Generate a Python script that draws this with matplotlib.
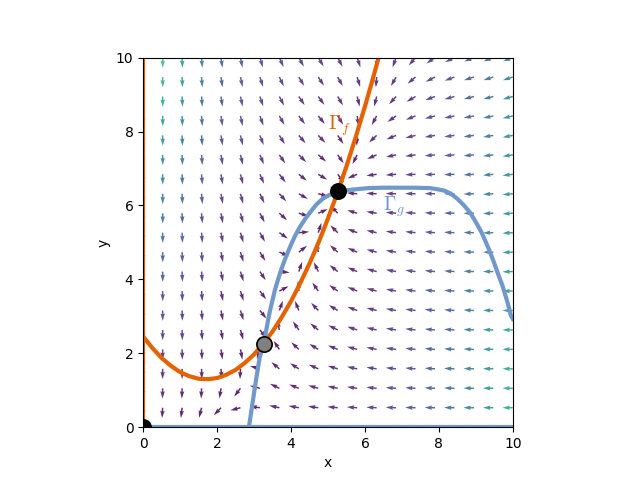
import numpy as np
import matplotlib
matplotlib.use("Agg")
import matplotlib.pyplot as plt

plt.rcParams['mathtext.fontset'] = 'cm'

# ---- nullcline curves ----
gf_x = [0.0, 0.25, 0.5, 0.75, 1.0, 1.25, 1.5, 1.75, 2.0, 2.25, 2.5, 2.75, 3.0,
        3.25, 3.5, 3.75, 4.0, 4.25, 4.5, 4.75, 5.0, 5.25, 5.5, 5.75, 6.0, 6.2, 6.4]
gf_y = [2.45, 2.14, 1.87, 1.66, 1.49, 1.38, 1.31, 1.30, 1.33, 1.42, 1.55, 1.74, 1.97,
        2.26, 2.59, 2.98, 3.41, 3.90, 4.43, 5.01, 5.65, 6.33, 7.06, 7.85, 8.68, 9.38, 10.11]

gg_x = [2.86, 3.02, 3.15, 3.26, 3.41, 3.56, 3.65, 3.74, 3.85, 3.97, 4.1, 4.24, 4.4,
        4.56, 4.7, 4.87, 5.05, 5.28, 5.5, 5.78, 6.1, 6.5, 7.3, 7.75, 7.95, 8.15,
        8.32, 8.5, 8.68, 8.85, 9.0, 9.15, 9.27, 9.38, 9.49, 9.6, 9.72, 9.85, 9.95, 10.0]
gg_y = [0.0, 1.07, 1.88, 2.25, 3.06, 3.70, 4.00, 4.28, 4.58, 4.87, 5.16, 5.42, 5.66,
        5.87, 6.04, 6.19, 6.29, 6.36, 6.41, 6.44, 6.47, 6.48, 6.48, 6.47, 6.44, 6.40,
        6.32, 6.18, 6.0, 5.80, 5.55, 5.28, 5.01, 4.75, 4.46, 4.15, 3.83, 3.40, 3.02, 2.93]

# equilibria
eq_x = [0.0, 3.26, 5.28]
eq_y = [0.0, 2.25, 6.38]
eq_face = ['black', 'grey', 'black']

# model pieces for the direction field
f_coef = [0.399, -1.356, 2.45]          # Gamma_f : y = F(x)
g_left_x = [0.0, 0.53, 1.05, 1.58, 2.1]  # Gamma_g continuation below y=0
g_left_y = [-38.0, -22.0, -16.0, -9.0, -3.0]

n_grid = 20

ORANGE = '#E66100'
BLUE = '#7098CB'

fig, ax = plt.subplots(figsize=(6.4, 4.8), dpi=100)

xs = np.linspace(0, 10, n_grid)
ys = np.linspace(0, 10, n_grid)
X, Y = np.meshgrid(xs, ys)
Gx = np.array(g_left_x + gg_x)
Gy = np.array(g_left_y + gg_y)
FX = np.polyval(f_coef, X)
GX = np.interp(X, Gx, Gy)
U = X * (Y - FX)
V = Y * (GX - Y)
M = np.hypot(U, V)
Mn = np.where(M == 0, 1, M)
ax.quiver(X, Y, U / Mn, V / Mn, M, cmap='viridis', alpha=0.85,
          angles='xy', scale_units='xy', scale=1 / 0.28, width=0.004,
          zorder=1)

ax.plot([0, 0], [0, 10], color=ORANGE, lw=3, zorder=2)
ax.plot(gf_x, gf_y, color=ORANGE, lw=3, zorder=2)
ax.plot([0, 10], [0, 0], color=BLUE, lw=3, zorder=2)
ax.plot(gg_x, gg_y, color=BLUE, lw=3, zorder=2)

for ex, ey, fc in zip(eq_x, eq_y, eq_face):
    ax.plot(ex, ey, 'o', ms=11, mfc=fc, mec='black', mew=1.2, zorder=3)

ax.text(5.0, 8.05, r'$\Gamma_f$', color=ORANGE, fontsize=14)
ax.text(6.5, 5.85, r'$\Gamma_g$', color=BLUE, fontsize=14)

ax.set_xlim(0, 10)
ax.set_ylim(0, 10)
ax.set_aspect('equal')
ax.set_xlabel('x')
ax.set_ylabel('y')
ax.set_xticks([0, 2, 4, 6, 8, 10])
ax.set_yticks([0, 2, 4, 6, 8, 10])

fig.savefig('out.png', dpi=100)
